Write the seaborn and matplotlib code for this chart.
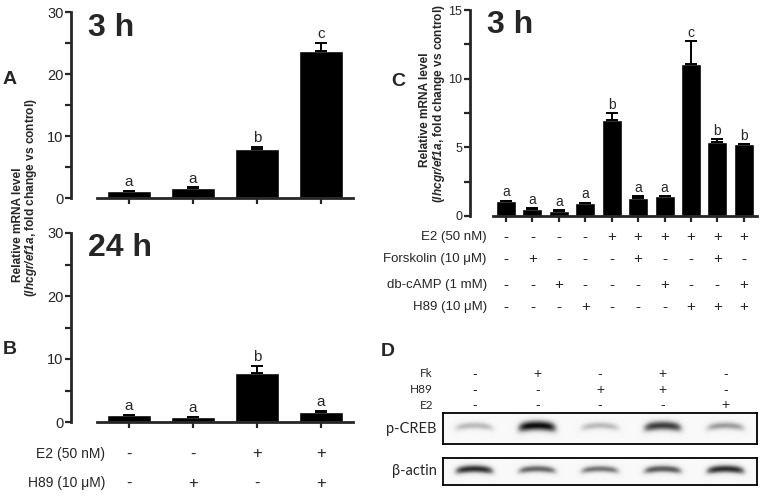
import numpy as np
import seaborn as sns
import matplotlib.pyplot as plt
from matplotlib.ticker import MultipleLocator

# --- Panel A: 3 h ---
A_GROUPS = ['Ctrl', 'H89', 'E2', 'E2+H89']
A_MEAN = [1.1, 1.6, 7.9, 23.7]
A_SEM = [0.1, 0.1, 0.4, 1.3]
A_LETTERS = ['a', 'a', 'b', 'c']

# --- Panel B: 24 h ---
B_GROUPS = ['Ctrl', 'H89', 'E2', 'E2+H89']
B_MEAN = [1.05, 0.8, 7.7, 1.6]
B_SEM = [0.1, 0.05, 1.2, 0.2]
B_LETTERS = ['a', 'a', 'b', 'a']

AB_TREATMENTS = ['E2 (50 nM)', 'H89 (10 μM)']
AB_SIGNS = [['-', '-', '+', '+'],
            ['-', '+', '-', '+']]

# --- Panel C: 3 h, PKA pathway ---
C_GROUPS = ['Ctrl', 'Fk', 'cAMP', 'H89', 'E2', 'E2+Fk', 'E2+cAMP',
            'E2+H89', 'E2+Fk+H89', 'E2+cAMP+H89']
C_MEAN = [1.08, 0.52, 0.4, 0.93, 7.0, 1.3, 1.42, 11.1, 5.4, 5.22]
C_SEM = [0.04, 0.03, 0.03, 0.04, 0.5, 0.12, 0.04, 1.65, 0.18, 0.03]
C_LETTERS = ['a', 'a', 'a', 'a', 'b', 'a', 'a', 'c', 'b', 'b']
C_TREATMENTS = ['E2 (50 nM)', 'Forskolin (10 μM)', 'db-cAMP (1 mM)', 'H89 (10 μM)']
C_SIGNS = [list('----++++++'),
           list('-+---+--+-'),
           list('--+---+--+'),
           list('---+---+++')]

# --- Panel D: western blot ---
D_TREATMENTS = ['Fk', 'H89', 'E2']
D_SIGNS = [list('-+-+-'), list('--++-'), list('----+')]
D_PCREB = [0.35, 0.95, 0.35, 0.8, 0.45]
D_ACTIN = [0.85, 0.65, 0.6, 0.7, 0.85]

W, H = 761, 496

sns.set_style('ticks')
plt.rcParams['font.family'] = ['Liberation Sans', 'DejaVu Sans']
plt.rcParams['mathtext.fontset'] = 'custom'
plt.rcParams['mathtext.rm'] = 'Liberation Sans'
plt.rcParams['mathtext.bf'] = 'Liberation Sans:bold'
plt.rcParams['mathtext.bfit'] = 'Liberation Sans:italic:bold'

BLOT_FONT = ['Lato', 'DejaVu Sans']


def px_axes(fig, x0, y0, x1, y1):
    return fig.add_axes([x0 / W, 1 - y1 / H, (x1 - x0) / W, (y1 - y0) / H])


def bar_panel(ax, groups, mean, sem, letters, ymax, step, x_left, width,
              fs_tick, fs_letter, pad_letter):
    n = len(groups)
    sns.barplot(x=groups, y=mean, color='black', saturation=1, width=width,
                errorbar=None, ax=ax)
    pos = np.arange(n)
    ax.errorbar(pos, mean, yerr=[np.zeros(n), sem], fmt='none', ecolor='black',
                elinewidth=1.4, capsize=4.5, capthick=1.4)
    for p, m, s, t in zip(pos, mean, sem, letters):
        ax.text(p, m + s + pad_letter, t, ha='center', va='bottom', fontsize=fs_letter)
    ax.set_xlim(x_left, n - 0.5)
    ax.set_ylim(0, ymax)
    sns.despine(ax=ax)
    ax.spines['bottom'].set_bounds(-0.5, n - 0.5)
    for side in ['left', 'bottom']:
        ax.spines[side].set_linewidth(2)
    ax.set_xticks(pos, [''] * n)
    ax.yaxis.set_major_locator(MultipleLocator(step))
    ax.yaxis.set_minor_locator(MultipleLocator(step / 2))
    ax.tick_params(axis='both', which='both', direction='out', width=1.6,
                   length=4.5, pad=1, labelsize=fs_tick)
    ax.set_xlabel('')
    ax.set_ylabel('')


def sign_rows(ax, labels, signs, rows_y, label_x, fs_label, fs_sign, family=None):
    tr = ax.get_xaxis_transform()
    kw = {} if family is None else {'family': family}
    for lab, row, y in zip(labels, signs, rows_y):
        ax.text(label_x, y, lab, transform=tr, ha='right', va='center',
                fontsize=fs_label, clip_on=False, **kw)
        for i, s in enumerate(row):
            ax.text(i + (0.5 if family else 0), y, s, transform=tr, ha='center',
                    va='center', fontsize=fs_sign, clip_on=False)


def blot_image(levels, thick):
    xs = np.linspace(-1, 1, 64)
    ys = np.linspace(0, 1, 40)[:, None]
    lanes = []
    for lvl in levels:
        centre = 0.42 + 0.22 * xs ** 2
        envelope = np.exp(-(xs / 0.62) ** 6)
        sig = thick * (0.6 + 0.5 * lvl)
        band = lvl * envelope * np.exp(-((ys - centre) / sig) ** 2)
        lanes.append(0.05 + 0.95 * band)
    return np.hstack(lanes)


def blot_panel(ax, levels, label, thick):
    ax.imshow(blot_image(levels, thick), cmap='Greys', vmin=0, vmax=1,
              aspect='auto', extent=(0, 5, 1, 0), interpolation='bilinear')
    ax.set_xticks([])
    ax.set_yticks([])
    for sp in ax.spines.values():
        sp.set_visible(True)
        sp.set_linewidth(1.3)
        sp.set_color('black')
    ax.text(-0.02, 0.5, label, transform=ax.transAxes, ha='right', va='center',
            fontsize=10.5, family=BLOT_FONT)


def main():
    fig = plt.figure(figsize=(W / 100, H / 100), dpi=100)

    ax_a = px_axes(fig, 71, 12, 353, 198)
    ax_b = px_axes(fig, 71, 233, 353, 422)
    ax_c = px_axes(fig, 470, 10, 757, 216)

    bar_panel(ax_a, A_GROUPS, A_MEAN, A_SEM, A_LETTERS, 30, 10, -0.906, 0.69, 10.5, 11, 0.25)
    bar_panel(ax_b, B_GROUPS, B_MEAN, B_SEM, B_LETTERS, 30, 10, -0.906, 0.69, 10.5, 11, 0.25)
    bar_panel(ax_c, C_GROUPS, C_MEAN, C_SEM, C_LETTERS, 15, 5, -1.364, 0.76, 9, 10, 0.1)

    ax_a.text(0.06, 0.914, '3 h', transform=ax_a.transAxes, fontsize=23,
              fontweight='bold', va='center')
    ax_b.text(0.06, 0.92, '24 h', transform=ax_b.transAxes, fontsize=23,
              fontweight='bold', va='center')
    ax_c.text(0.059, 0.927, '3 h', transform=ax_c.transAxes, fontsize=23,
              fontweight='bold', va='center')

    sign_rows(ax_b, AB_TREATMENTS, AB_SIGNS, [-0.169, -0.323], -0.375, 10, 12)
    sign_rows(ax_c, C_TREATMENTS, C_SIGNS, [-0.102, -0.209, -0.335, -0.442], -0.726, 9.5, 11)

    # y labels
    line1 = 'Relative mRNA level'
    line2 = '(' + r'$\mathbfit{lhcgr/ef1a}$' + ', fold change vs control)'
    for (x1, y1), (x2, y2) in [((18, 225), (31, 198)), ((425, 110), (439, 104))]:
        fig.text(x1 / W, 1 - y1 / H, line1, rotation=90, ha='center', va='center',
                 fontsize=8.6, fontweight='bold')
        fig.text(x2 / W, 1 - y2 / H, line2, rotation=90, ha='center', va='center',
                 fontsize=8.6, fontweight='bold')

    # panel letters
    for lab, x, y in [('A', 10, 80), ('B', 10, 350), ('C', 398, 81), ('D', 388, 351)]:
        fig.text(x / W, 1 - y / H, lab, fontsize=14, fontweight='bold',
                 ha='center', va='center')

    # blot
    ax_h = px_axes(fig, 443, 366, 757, 412)
    ax_h.set_xlim(0, 5)
    ax_h.set_ylim(0, 3)
    ax_h.axis('off')
    sign_rows(ax_h, D_TREATMENTS, D_SIGNS, [0.83, 0.48, 0.15], -0.16, 8.5, 10,
              family=BLOT_FONT)

    ax_p = px_axes(fig, 443, 413, 757, 444)
    ax_act = px_axes(fig, 443, 458, 757, 485)
    blot_panel(ax_p, D_PCREB, 'p-CREB', 0.16)
    blot_panel(ax_act, D_ACTIN, 'β-actin', 0.15)

    fig.savefig('out.png', dpi=100)


if __name__ == '__main__':
    main()
